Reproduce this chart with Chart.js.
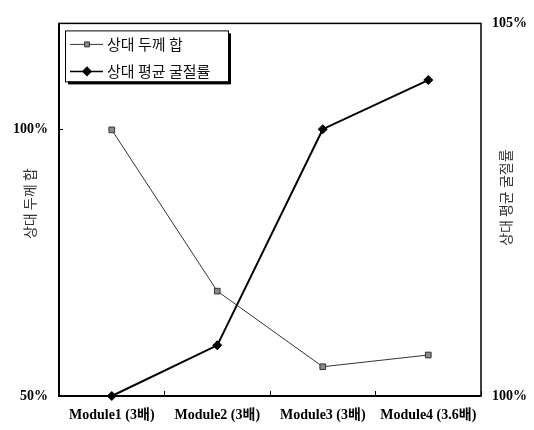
<!DOCTYPE html>
<html>
<head>
<meta charset="utf-8">
<script src="https://cdn.jsdelivr.net/npm/chart.js@4/dist/chart.umd.min.js"></script>
<style>
  body { margin: 0; background: #fff; }
  #wrap { width: 534px; height: 430px; position: relative; }
</style>
</head>
<body>
<div id="wrap"><canvas id="myChart"></canvas></div>
<script>
// 데이터
const categories = ['Module1 (3배)', 'Module2 (3배)', 'Module3 (3배)', 'Module4 (3.6배)'];
const thicknessSum = [100, 69.7, 55.5, 57.7];        // 상대 두께 합 (왼쪽 축, %)
const avgRefraction = [100, 100.68, 103.58, 104.24];  // 상대 평균 굴절률 (오른쪽 축, %)
const leftTicks = [50, 100];
const rightTicks = [100, 105];

const seriesNames = ['상대 두께 합', '상대 평균 굴절률'];
const leftTitle = '상대 두께 합';
const rightTitle = '상대 평균 굴절률';

const serif = '"Liberation Serif", "Times New Roman", "Noto Sans CJK KR", serif';
const kor = '"Noto Sans CJK KR", sans-serif';

// 틀, 축 제목, 범례를 그리는 플러그인
const framePlugin = {
    id: 'frame',
    beforeDatasetsDraw(chart) {
        const ctx = chart.ctx;
        const a = chart.chartArea;
        ctx.save();
        ctx.strokeStyle = '#000';
        ctx.lineWidth = 1.5;
        ctx.strokeRect(a.left, a.top, a.right - a.left, a.bottom - a.top);
        ctx.lineWidth = 2;
        ctx.beginPath();
        ctx.moveTo(a.left, a.top);
        ctx.lineTo(a.left, a.bottom);
        ctx.lineTo(a.right, a.bottom);
        ctx.stroke();
        ctx.restore();
    },
    afterDraw(chart) {
        const ctx = chart.ctx;
        const a = chart.chartArea;
        const midY = (a.top + a.bottom) / 2;

        // 축 제목 (아래에서 위로)
        ctx.save();
        ctx.fillStyle = '#333';
        ctx.font = '14px ' + kor;
        ctx.textAlign = 'center';
        ctx.textBaseline = 'middle';
        [[30, midY - 6, leftTitle], [506, midY - 12, rightTitle]].forEach(([x, y, t]) => {
            ctx.save();
            ctx.translate(x, y);
            ctx.rotate(-Math.PI / 2);
            ctx.fillText(t, 0, 0);
            ctx.restore();
        });
        ctx.restore();

        // 범례
        const bx = a.left + 6, by = a.top + 7, bw = 163, bh = 51;
        ctx.save();
        ctx.fillStyle = '#000';
        ctx.fillRect(bx + 3, by + 3, bw, bh);
        ctx.fillStyle = '#fff';
        ctx.fillRect(bx, by, bw, bh);
        ctx.strokeStyle = '#000';
        ctx.lineWidth = 1;
        ctx.strokeRect(bx + 0.5, by + 0.5, bw, bh);

        chart.data.datasets.forEach((ds, i) => {
            const y = by + 14 + i * 27;
            ctx.strokeStyle = ds.borderColor;
            ctx.lineWidth = Math.min(ds.borderWidth, 1.5);
            ctx.beginPath();
            ctx.moveTo(bx + 5, y);
            ctx.lineTo(bx + 38, y);
            ctx.stroke();
            ctx.fillStyle = ds.pointBackgroundColor;
            ctx.strokeStyle = ds.pointBorderColor;
            Chart.helpers.drawPoint(ctx, {
                pointStyle: ds.pointStyle,
                radius: ds.pointRadius - 0.5,
                rotation: 0,
                borderWidth: 1
            }, bx + 22, y);
            ctx.fillStyle = '#111';
            ctx.font = '15px ' + kor;
            ctx.textAlign = 'left';
            ctx.textBaseline = 'middle';
            ctx.fillText(ds.label, bx + 42, y);
        });
        ctx.restore();
    }
};

new Chart(document.getElementById('myChart'), {
    type: 'line',
    data: {
        labels: categories,
        datasets: [
            {
                label: seriesNames[0],
                data: thicknessSum,
                yAxisID: 'yLeft',
                borderColor: '#333',
                borderWidth: 1,
                pointStyle: 'rect',
                pointRadius: 4,
                pointBackgroundColor: '#8a8a8a',
                pointBorderColor: '#333',
                pointBorderWidth: 1,
                clip: false
            },
            {
                label: seriesNames[1],
                data: avgRefraction,
                yAxisID: 'yRight',
                borderColor: '#000',
                borderWidth: 2,
                pointStyle: 'rectRot',
                pointRadius: 4.5,
                pointBackgroundColor: '#000',
                pointBorderColor: '#000',
                pointBorderWidth: 1,
                clip: false
            }
        ]
    },
    options: {
        responsive: true,
        maintainAspectRatio: false,
        animation: false,
        layout: { padding: { top: 13, left: 0, right: 0, bottom: 0 } },
        plugins: {
            legend: { display: false },
            tooltip: { enabled: false }
        },
        scales: {
            x: {
                offset: true,
                border: { display: false },
                grid: {
                    offset: true,
                    drawOnChartArea: false,
                    tickLength: -5,
                    color: '#000'
                },
                ticks: {
                    padding: 16,
                    color: '#000',
                    font: { family: serif, size: 14, weight: 'bold' },
                    maxRotation: 0
                },
                afterFit(scale) { scale.height = 34; }
            },
            yLeft: {
                position: 'left',
                min: 50,
                max: 120,
                border: { display: false },
                grid: { drawOnChartArea: false, tickLength: -4, color: '#000' },
                ticks: {
                    padding: 15,
                    color: '#000',
                    font: { family: serif, size: 14, weight: 'bold' },
                    callback: v => v + '%'
                },
                afterBuildTicks(scale) { scale.ticks = leftTicks.map(v => ({ value: v })); },
                afterFit(scale) { scale.width = 59; }
            },
            yRight: {
                position: 'right',
                min: 100,
                max: 105,
                border: { display: false },
                grid: { drawOnChartArea: false, tickLength: -4, color: '#000' },
                ticks: {
                    padding: 15,
                    color: '#000',
                    font: { family: serif, size: 14, weight: 'bold' },
                    callback: v => v + '%'
                },
                afterBuildTicks(scale) { scale.ticks = rightTicks.map(v => ({ value: v })); },
                afterFit(scale) { scale.width = 53; }
            }
        }
    },
    plugins: [framePlugin]
});
</script>
</body>
</html>
